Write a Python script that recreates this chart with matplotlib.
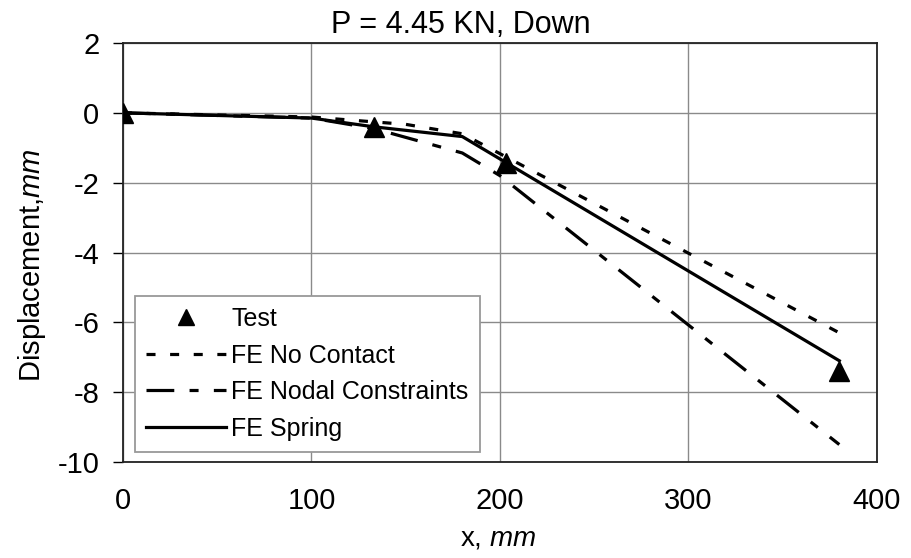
import matplotlib
matplotlib.use("Agg")
import matplotlib.pyplot as plt

# data
test_x = [0, 133, 203, 380]
test_y = [0, -0.4, -1.45, -7.4]

nocontact_x = [0, 100, 150, 180, 380]
nocontact_y = [0, -0.12, -0.33, -0.6, -6.3]

nodal_x = [0, 100, 133, 180, 200, 380]
nodal_y = [0, -0.15, -0.45, -1.15, -1.8, -9.5]

spring_x = [0, 100, 133, 180, 380]
spring_y = [0, -0.15, -0.4, -0.68, -7.1]

xticks = [0, 100, 200, 300, 400]
yticks = [2, 0, -2, -4, -6, -8, -10]

plt.rcParams['font.family'] = ['Liberation Sans', 'DejaVu Sans']
plt.rcParams['lines.scale_dashes'] = False
plt.rcParams['axes.unicode_minus'] = False
plt.rcParams['mathtext.fontset'] = 'custom'
plt.rcParams['mathtext.it'] = 'Liberation Sans:italic'
plt.rcParams['mathtext.rm'] = 'Liberation Sans'

fig = plt.figure(figsize=(9.12, 5.58), dpi=100)
ax = fig.add_axes([123 / 912, 1 - 462 / 558, 754 / 912, 419 / 558])

ax.plot(test_x, test_y, linestyle='none', marker='^', ms=14, color='black',
        label='Test', zorder=5)
ax.plot(nocontact_x, nocontact_y, color='black', lw=2.3,
        dashes=(6.5, 10.5), label='FE No Contact')
ax.plot(nodal_x, nodal_y, color='black', lw=2.3,
        dashes=(20, 11, 6.5, 11), label='FE Nodal Constraints')
ax.plot(spring_x, spring_y, color='black', lw=2.3, label='FE Spring')

ax.set_xlim(0, 400)
ax.set_ylim(-10, 2)
ax.set_xticks(xticks)
ax.set_yticks(yticks)
ax.grid(True, color='#8a8a8a', lw=1.0)
ax.set_axisbelow(True)
for s in ax.spines.values():
    s.set_color('#222222')
    s.set_linewidth(1.3)

ax.tick_params(axis='x', length=0, pad=18, labelsize=21)
ax.tick_params(axis='y', length=7, width=1, pad=10, labelsize=21,
               direction='out')

ax.set_title('P = 4.45 KN, Down', fontsize=22, x=0.448, pad=7)
ax.set_ylabel('Displacement,$mm$', fontsize=21)
ax.yaxis.set_label_coords(-0.100, 0.47)
ax.set_xlabel('x, $mm$', fontsize=20)
ax.xaxis.set_label_coords(0.497, -0.152)

leg = ax.legend(loc='lower left', bbox_to_anchor=(0.016, 0.024),
                borderaxespad=0, fontsize=18, handlelength=3.2,
                handletextpad=0.2, labelspacing=0.5, borderpad=0.45,
                markerscale=0.85, numpoints=1, fancybox=False,
                framealpha=1, edgecolor='#999999')
leg.get_frame().set_linewidth(1.3)

fig.savefig('out.png', dpi=100)
